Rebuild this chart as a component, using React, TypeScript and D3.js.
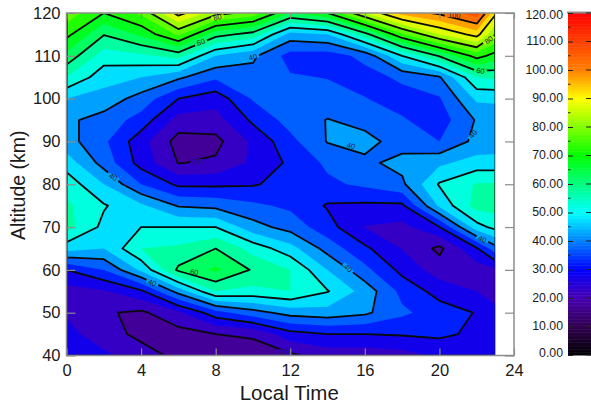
import { useEffect, useRef } from "react";
import * as d3 from "d3";

// grid columns (local time) and rows (altitude)
const hours = [0, 2, 4, 6, 8, 10, 12, 14, 16, 18, 20, 22, 23];
const alts = [40, 45, 50, 55, 60, 65, 70, 75, 80, 85, 90, 95, 100, 105, 110, 115, 120];

const row120 = [78, 70, 76, 92, 82, 78, 65, 70, 85, 97, 101, 108, 91];
const row115 = [71.5, 60.3, 66, 76, 62, 58, 43, 45, 58, 74, 85, 92, 80];
const row110 = [63.5, 52.5, 54, 57, 45, 41, 33, 32.5, 36.5, 50, 60.5, 72, 68];
const row105 = [55, 47, 45, 41, 36, 38, 35.5, 34.8, 33, 36, 39.5, 55, 56];
const row100 = [45, 43, 38, 30, 27, 35.5, 37.5, 37, 35.2, 33, 34.5, 46, 45.8];
const row95 = [41, 38, 33, 23, 23, 31, 37, 40.2, 38.5, 35.5, 32.5, 40.5, 42.5];
const row90 = [42, 36, 27, 18, 18.5, 26, 33.5, 40.3, 41.5, 38, 35, 41.5, 42];
const row85 = [47.7, 38, 28, 19.8, 20.8, 26, 31, 36, 39, 41.5, 44, 47, 47];
const row80 = [53, 45, 35, 29, 29, 29.5, 32, 34, 36, 39, 50.5, 55.5, 55.5];
const row75 = [56, 50.5, 46, 39.5, 38.5, 36, 34, 29.5, 29, 29, 46, 57, 57];
const row70 = [57, 48.6, 50, 50, 50, 42, 38, 32, 24.8, 23.5, 30, 48, 51.5];
const row65 = [47.2, 45, 55, 56, 60, 53, 47, 38, 31, 24.8, 18.8, 29.5, 38];
const row60 = [30, 35, 46, 61, 66, 59.4, 55, 45, 36.5, 28.5, 22.5, 22.5, 24];
const row55 = [23, 24.5, 29, 42, 55, 53.5, 55, 50.3, 43, 33.5, 28, 25, 23.5];
const row50 = [24.5, 20.6, 19, 24, 33, 38, 42, 43, 41, 36, 32.5, 29.7, 26];
const row45 = [26.5, 22.5, 18.5, 18, 20, 21, 28, 30, 30, 30.5, 31, 29, 27.5];
const row40 = [28, 26, 22.5, 18.5, 16, 16.5, 19, 22, 22, 23, 26, 28, 28];

const rows = [row40, row45, row50, row55, row60, row65, row70, row75, row80, row85, row90, row95, row100, row105, row110, row115, row120];

const fillLevels = d3.range(15, 110, 5);
const lineLevels = d3.range(20, 110, 10);

const stopValues = [0, 10, 20, 30, 40, 50, 60, 70, 80, 90, 100, 120];
const stopColors = ["#000000", "#300050", "#4800b0", "#0000ff", "#0080ff", "#00ffff", "#00ff80", "#00ff00", "#80ff00", "#ffff00", "#ff8000", "#ff0000"];

const xTicks = [0, 4, 8, 12, 16, 20, 24];
const yTicks = [40, 50, 60, 70, 80, 90, 100, 110, 120];
const barTicks = d3.range(0, 130, 10);
const barMinorTicks = d3.range(5, 120, 10);

// text, hour, altitude, angle of the contour labels
const contourLabels: [string, number, number, number][] = [
  ["20", 7, 85.4, 0],
  ["40", 10, 109.7, -15],
  ["60", 7.2, 113.2, -20],
  ["80", 8.1, 119, -12],
  ["40", 2.5, 81.7, 30],
  ["60", 6.85, 59.5, 10],
  ["40", 4.6, 57, 20],
  ["20", 11.7, 40.8, 10],
  ["100", 20.8, 119.4, 3],
  ["80", 22.65, 113.7, -35],
  ["60", 22.2, 106.5, 8],
  ["40", 21.8, 91.7, -50],
  ["40", 15.25, 89, 15],
  ["40", 15.1, 60.4, 45],
  ["40", 22.3, 67.2, 25],
];

const width = 591;
const height = 404;
const plot = { left: 66.5, right: 514, top: 13, bottom: 355.5 };
const bar = { left: 568, right: 591, top: 13, bottom: 355 };
const frameColor = "#8c8c8c";
const font = "'Liberation Sans', Arial, sans-serif";

export default function App() {
  const svgRef = useRef<SVGSVGElement>(null);

  useEffect(() => {
    const svg = d3.select(svgRef.current);
    svg.selectAll("*").remove();

    const x = d3.scaleLinear().domain([0, 24]).range([plot.left, plot.right]);
    const y = d3.scaleLinear().domain([40, 120]).range([plot.bottom, plot.top]);
    const color = d3.scaleLinear<string>().domain(stopValues).range(stopColors);
    const barY = d3.scaleLinear().domain([0, 120]).range([bar.bottom, bar.top]);

    // the columns are not evenly spaced, d3.contours keeps node i at i + 0.5
    const gridX = d3.scaleLinear<number>()
      .domain([0, ...hours.map((_, i) => i + 0.5), hours.length])
      .range([x(hours[0]), ...hours.map(h => x(h)), x(hours[hours.length - 1])]);
    const gridY = d3.scaleLinear<number>()
      .domain([0, ...alts.map((_, i) => i + 0.5), alts.length])
      .range([y(alts[0]), ...alts.map(a => y(a)), y(alts[alts.length - 1])]);

    const path = d3.geoPath(d3.geoTransform({
      point(px, py) {
        this.stream.point(gridX(px), gridY(py));
      },
    }));

    const values = rows.flat();
    const contours = d3.contours().size([hours.length, alts.length]);

    const defs = svg.append("defs");
    defs.append("clipPath").attr("id", "inner")
      .append("rect")
      .attr("x", x(0) + 1)
      .attr("y", plot.top + 1)
      .attr("width", x(23) - x(0) - 2)
      .attr("height", plot.bottom - plot.top - 2);
    defs.append("clipPath").attr("id", "field")
      .append("rect")
      .attr("x", x(0))
      .attr("y", plot.top)
      .attr("width", x(23) - x(0))
      .attr("height", plot.bottom - plot.top);

    // scanned look of the reference: everything in the field is a little soft
    const field = svg.append("g").attr("clip-path", "url(#field)").append("g").style("filter", "blur(0.4px)");

    field.append("rect")
      .attr("x", x(0) - 3)
      .attr("y", plot.top - 3)
      .attr("width", x(23) - x(0) + 6)
      .attr("height", plot.bottom - plot.top + 6)
      .attr("fill", color(12.5));

    field.append("g")
      .selectAll("path")
      .data(contours.thresholds(fillLevels)(values))
      .join("path")
      .attr("d", d => path(d))
      .attr("fill", d => color(d.value + 2.5));

    field.append("g")
      .attr("clip-path", "url(#inner)")
      .selectAll("path")
      .data(contours.thresholds(lineLevels)(values))
      .join("path")
      .attr("d", d => path(d))
      .attr("fill", "none")
      .attr("stroke", "#0a0a0a")
      .attr("stroke-width", 1.8)
      .attr("stroke-linejoin", "round");

    // labels sit in a gap of the contour line
    const labels = svg.append("g")
      .selectAll("g")
      .data(contourLabels)
      .join("g")
      .attr("transform", d => `translate(${x(d[1])},${y(d[2])}) rotate(${d[3]})`);
    labels.append("rect")
      .attr("x", d => -d[0].length * 3.2)
      .attr("y", -2)
      .attr("width", d => d[0].length * 6.4)
      .attr("height", 4)
      .attr("fill", d => color(+d[0] + 2.5));
    labels.append("text")
      .attr("text-anchor", "middle")
      .attr("dy", "0.35em")
      .attr("font-family", font)
      .attr("font-size", 7.5)
      .attr("fill", "#222")
      .text(d => d[0]);

    // frame and axes
    svg.append("rect")
      .attr("x", plot.left)
      .attr("y", plot.top)
      .attr("width", plot.right - plot.left)
      .attr("height", plot.bottom - plot.top)
      .attr("fill", "none")
      .attr("stroke", frameColor)
      .attr("stroke-width", 1.5);

    const styleAxis = (g: any) => {
      g.attr("font-family", font).attr("font-size", 16.5);
      g.select(".domain").remove();
      g.selectAll("line").attr("stroke", frameColor).attr("stroke-width", 1.2);
      g.selectAll("text").attr("fill", "#1a1a1a");
    };

    svg.append("g")
      .attr("transform", `translate(0,${plot.bottom})`)
      .call(d3.axisBottom(x).tickValues(xTicks).tickFormat(d3.format("d")).tickSizeInner(-7).tickSizeOuter(0).tickPadding(9))
      .call(styleAxis);
    svg.append("g")
      .attr("transform", `translate(0,${plot.top})`)
      .call(d3.axisTop(x).tickValues(xTicks).tickFormat(() => "").tickSizeInner(-6).tickSizeOuter(0))
      .call(styleAxis);
    svg.append("g")
      .attr("transform", `translate(${plot.left},0)`)
      .call(d3.axisLeft(y).tickValues(yTicks).tickFormat(d3.format("d")).tickSizeInner(-9).tickSizeOuter(0).tickPadding(6))
      .call(styleAxis);
    svg.append("g")
      .attr("transform", `translate(${plot.right},0)`)
      .call(d3.axisRight(y).tickValues(yTicks).tickFormat(() => "").tickSizeInner(-9).tickSizeOuter(0))
      .call(styleAxis);

    svg.append("text")
      .attr("x", (plot.left + plot.right) / 2 - 1)
      .attr("y", 400)
      .attr("text-anchor", "middle")
      .attr("font-family", font)
      .attr("font-size", 20.5)
      .attr("fill", "#1a1a1a")
      .text("Local Time");
    svg.append("text")
      .attr("transform", `translate(25,${(plot.top + plot.bottom) / 2 + 1}) rotate(-90)`)
      .attr("text-anchor", "middle")
      .attr("font-family", font)
      .attr("font-size", 19.5)
      .attr("fill", "#1a1a1a")
      .text("Altitude (km)");

    // colour bar
    svg.append("g")
      .selectAll("rect")
      .data(d3.range(0, 120, 0.5))
      .join("rect")
      .attr("x", bar.left)
      .attr("y", d => barY(d + 0.5))
      .attr("width", bar.right - bar.left)
      .attr("height", d => barY(d) - barY(d + 0.5) + 0.5)
      .attr("fill", d => color(d + 0.25));
    svg.append("line")
      .attr("x1", bar.left - 1)
      .attr("x2", bar.right)
      .attr("y1", bar.top - 0.5)
      .attr("y2", bar.top - 0.5)
      .attr("stroke", frameColor)
      .attr("stroke-width", 2);

    const barAxis = svg.append("g")
      .attr("transform", `translate(${bar.left},0)`)
      .call(d3.axisLeft(barY).tickValues(barTicks).tickFormat(d3.format(".2f")).tickSizeInner(-5).tickSizeOuter(0).tickPadding(5));
    barAxis.attr("font-family", font).attr("font-size", 12.3);
    barAxis.select(".domain").remove();
    barAxis.selectAll("line").attr("stroke", "#222");
    // end labels are pulled in so they stay beside the bar
    barAxis.selectAll("text")
      .attr("fill", "#1a1a1a")
      .attr("dy", (d: any) => (d === 120 ? "0.45em" : d === 0 ? "0.1em" : "0.25em"));

    svg.append("g")
      .selectAll("line")
      .data(barTicks)
      .join("line")
      .attr("x1", bar.right - 5)
      .attr("x2", bar.right)
      .attr("y1", d => barY(d))
      .attr("y2", d => barY(d))
      .attr("stroke", "#222");
    svg.append("g")
      .selectAll("line")
      .data(barMinorTicks)
      .join("line")
      .attr("x1", bar.left)
      .attr("x2", bar.left + 2.5)
      .attr("y1", d => barY(d))
      .attr("y2", d => barY(d))
      .attr("stroke", "#222");
  }, []);

  return (
    <svg
      ref={svgRef}
      width={width}
      height={height}
      style={{ position: "absolute", left: 0, top: 0, background: "#fff" }}
    />
  );
}
